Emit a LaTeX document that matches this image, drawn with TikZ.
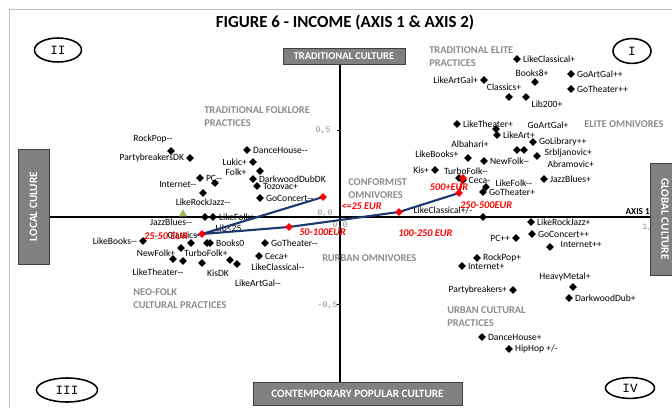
\documentclass[tikz,border=0pt]{standalone}
\usepackage{fontspec}
\setmainfont{Carlito}[Ligatures=TeXOff]
\newfontfamily\monofont{Liberation Mono}
\usetikzlibrary{shapes.geometric}
\definecolor{navy}{RGB}{31,56,112}
\definecolor{olivegreen}{RGB}{155,187,89}
\tikzstyle{dot}=[diamond, fill=black, inner sep=0pt, minimum size=5.8pt, label distance=2.2pt]
\tikzstyle{rdot}=[dot, fill=red]
\tikzstyle{lbl}=[font=\fontsize{6.8}{7}\selectfont, inner sep=1pt]
\tikzstyle{every label}=[lbl]
\tikzstyle{rlbl}=[font=\fontsize{7.3}{8}\selectfont\bfseries\itshape, text=red, inner sep=0pt]
\tikzstyle{cat}=[font=\fontsize{7.4}{9.2}\selectfont\bfseries, text=black!45, align=left, inner sep=0pt]
\tikzstyle{cbox}=[draw=black!75, fill=black!50, text=white, font=\fontsize{7.8}{9}\selectfont\bfseries, line width=.6pt, inner sep=0pt]
\tikzstyle{quad}=[ellipse, draw=black, line width=1.1pt, font=\monofont\fontsize{9}{10}\selectfont, inner sep=0pt]
\tikzstyle{tick}=[font=\monofont\fontsize{6}{7}\selectfont, text=black!45, inner sep=0pt]
\tikzstyle{axis}=[line width=1.4pt]
\tikzstyle{income}=[draw=navy, line width=1.5pt]
\pgfdeclarelayer{bg}
\pgfdeclarelayer{fg}
\pgfsetlayers{bg,main,fg}

\begin{document}
\begin{tikzpicture}[x=0.025cm, y=-0.025cm]
\useasboundingbox (0,0) rectangle (672,408);
\begin{pgfonlayer}{bg}
  \draw[black!25] (9,420) -- (9,9) -- (680,9);
  \draw[axis] (340,64) -- (340,382);
  \draw[axis] (49,217) -- (650,217);
  \foreach \y in {130,304}
    \draw[line width=.6pt] (337,\y) -- (340,\y);
\end{pgfonlayer}

\node[font=\fontsize{12}{14}\selectfont\bfseries] (title) at (345,23) {FIGURE 6 - INCOME (AXIS 1 \& AXIS 2)};

% quadrants
\node[quad, minimum width=1.175cm, minimum height=.6cm] (q2) at (58,50) {II};
\node[quad, minimum width=.95cm, minimum height=.62cm] (q1) at (632,51) {I};
\node[quad, minimum width=1.525cm, minimum height=.6cm] (q3) at (67,390) {III};
\node[quad, minimum width=1.225cm, minimum height=.52cm] (q4) at (630,388) {IV};

% tick labels
\node[tick, anchor=east] (t05) at (331,130) {0,5};
\node[tick, anchor=east] (tm05) at (338,305) {-0,5};
\node[tick] (t00a) at (325,213) {0,0};
\node[tick] (t00b) at (340,225) {0,0};
\node[tick, anchor=west] (t10) at (642,227) {1,0};
\node[font=\fontsize{6.5}{7}\selectfont\bfseries, anchor=south east, inner sep=0pt] (axis1) at (650,215) {AXIS 1};

% poles
\node[cbox, minimum width=3.05cm, minimum height=.4cm, font=\fontsize{7.4}{9}\selectfont\bfseries] (trad) at (344,56) {TRADITIONAL CULTURE};
\node[cbox, minimum width=5.225cm, minimum height=.575cm, font=\fontsize{8}{9}\selectfont\bfseries] (pop) at (357.5,393.5) {CONTEMPORARY POPULAR CULTURE};
\node[cbox, rotate=90, minimum width=2.875cm, minimum height=.775cm, font=\fontsize{8}{9}\selectfont\bfseries] (local) at (33.5,206.5) {LOCAL CULURE};
\node[cbox, rotate=-90, minimum width=2.8cm, minimum height=.75cm, font=\fontsize{8}{9}\selectfont\bfseries] (global) at (665,219) {GLOBAL CULTURE};

% groups of practices
\node[cat, anchor=north west] (elite) at (429,46.6) {TRADITIONAL ELITE\\PRACTICES};
\node[cat, anchor=west] (eliteomni) at (584,124) {ELITE OMNIVORES};
\node[cat, anchor=north west] (folklore) at (204,106.6) {TRADITIONAL FOLKLORE\\PRACTICES};
\node[cat, anchor=north west] (conform) at (348,178.6) {CONFORMIST\\OMNIVORES};
\node[cat, anchor=west] (rurban) at (322,258) {RURBAN OMNIVORES};
\node[cat, anchor=north west] (neofolk) at (133,288.6) {NEO-FOLK\\CULTURAL PRACTICES};
\node[cat, anchor=north west] (urban) at (447,306.6) {URBAN CULTURAL\\PRACTICES};

% quadrant I
\node[dot, label=right:LikeClassical+] (likeclassical-p) at (517,59) {};
\node[dot] (books-p) at (535,82) {};
\node[lbl] at (532,73) {Books8+};
\node[dot, label=right:GoArtGal++] (goartgal-pp) at (571,74) {};
\node[dot, label=right:GoTheater++] (gotheater-pp) at (571,89) {};
\node[dot, label=left:LikeArtGal+] (likeartgal-p) at (484,80) {};
\node[dot] (classics-p) at (509,97) {};
\node[lbl] at (504,87) {Classics+};
\node[dot] (lib-p) at (526,97) {};
\node[lbl] at (547,104) {Lib200+};
\node[dot, label=right:LikeTheater+] (liketheater-p) at (457,124) {};
\node[dot] (goartgal-p) at (496,129) {};
\node[lbl] at (548,125) {GoArtGal+};
\node[dot, label=right:LikeArt+] (likeart-p) at (497,135) {};
\node[dot, label=right:GoLibrary++] (golibrary-pp) at (533,142) {};
\node[dot] (albahari-p) at (517,150) {};
\node[lbl] at (470,144) {Albahari+};
\node[dot] (abramovic-p) at (524,150) {};
\node[lbl, anchor=west] at (546,164) {Abramovic+};
\node[dot] (srbljanovic-p) at (537,156) {};
\node[lbl, anchor=west] at (543,153) {Srbljanovic+};
\node[dot] (likebooks-p) at (468,158) {};
\node[lbl, anchor=east] at (460,154) {LikeBooks+};
\node[dot, label=right:NewFolk--] (newfolk-m) at (484,161) {};
\node[dot, label=left:Kis+] (kis-p) at (435,170) {};
\node[dot] (turbofolk-m) at (459,178) {};
\node[lbl] at (466,171) {TurboFolk--};
\node[dot] (ceca-m) at (463,180) {};
\node[lbl, anchor=west] at (467,180) {Ceca-};
\node[dot] (likefolk-m) at (486,187) {};
\node[lbl, anchor=west] at (494,183) {LikeFolk--};
\node[dot, label=right:GoTheater+] (gotheater-p) at (483,192) {};
\node[dot, label=right:JazzBlues+] (jazzblues-p) at (544,179) {};
\node[dot] (likeclassical-pm) at (483,217) {};
\node[lbl, anchor=east] at (474,210) {LikeClassical+/-};

% quadrant IV
\node[dot, label=right:LikeRockJazz+] (likerockjazz-p) at (531,222) {};
\node[dot, label=right:GoConcert++] (goconcert-pp) at (532,234) {};
\node[dot] (internet-pp) at (550,247) {};
\node[lbl, anchor=west] at (559,244) {Internet++};
\node[dot, label=left:PC++] (pc-pp) at (516,238) {};
\node[dot, label=right:RockPop+] (rockpop-p) at (477,258) {};
\node[dot, label=right:Internet+] (internet-p) at (462,266) {};
\node[dot] (heavymetal-p) at (573,287) {};
\node[lbl] at (565,277) {HeavyMetal+};
\node[dot, label=left:Partybreakers+] (partybreakers-p) at (513,290) {};
\node[dot, label=right:DarkwoodDub+] (darkwooddub-p) at (569,298) {};
\node[dot, label=right:DanceHouse+] (dancehouse-p) at (482,337) {};
\node[dot, label={right:HipHop +/-}] (hiphop-pm) at (509,349) {};

% quadrant II
\node[dot] (rockpop-m) at (171,151) {};
\node[lbl] at (153,139) {RockPop--};
\node[dot, label=left:PartybreakersDK] (partybreakers-dk) at (190,158) {};
\node[dot, label=right:DanceHouse--] (dancehouse-m) at (247,150) {};
\node[dot, label=left:Lukic+] (lukic-p) at (253,162) {};
\node[dot] (folk-p) at (260,171) {};
\node[lbl, anchor=east] at (248,172) {Folk+};
\node[dot, label=right:DarkwoodDubDK] (darkwooddub-dk) at (253,179) {};
\node[dot, label=right:Tozovac+] (tozovac-p) at (257,186) {};
\node[dot, label=right:GoConcert--] (goconcert-m) at (260,198) {};
\node[dot, label=right:PC--] (pc-m) at (200,178) {};
\node[dot] (internet-m) at (215,183) {};
\node[lbl, anchor=east] at (198,184) {Internet--};
\node[dot, label=below:LikeRockJazz--] (likerockjazz-m) at (203,193) {};
\node[dot] (lib-m) at (205,217) {};
\node[lbl, anchor=west] at (214,228) {Lib<25};
\node[dot, label=right:LikeFolk+] (likefolk-p) at (213,217) {};
\node[regular polygon, regular polygon sides=3, fill=olivegreen, inner sep=0pt, minimum size=6.5pt] (jazzblues-m) at (183,214) {};
\node[lbl] at (171,222) {JazzBlues--};

% quadrant III
\node[dot, label=left:LikeBooks--] (likebooks-m) at (143,241) {};
\node[dot] (newfolk-p) at (181,248) {};
\node[lbl] at (156,253) {NewFolk+};
\node[dot] (classics-m) at (191,243) {};
\node[lbl, anchor=west] at (166,235) {Classics--};
\node[dot] (books-x) at (207,243) {};
\node[dot, label=right:Books0] (books-0) at (210,243) {};
\node[dot] (liketheater-m) at (173,259) {};
\node[lbl] at (158,272) {LikeTheater--};
\node[dot] (turbofolk-p) at (183,261) {};
\node[lbl] at (206,253) {TurboFolk+};
\node[dot] (kis-dk) at (202,263) {};
\node[lbl] at (218,273) {KisDK};
\node[dot] (likeartgal-m) at (230,260) {};
\node[lbl] at (258,283) {LikeArtGal--};
\node[dot] (likeclassical-m) at (237,264) {};
\node[lbl] at (278,267) {LikeClassical--};
\node[dot, label=right:Ceca+] (ceca-p) at (259,256) {};
\node[dot, label=right:GoTheater--] (gotheater-m) at (265,243) {};

% income
\begin{pgfonlayer}{fg}
  \node[rdot] (r25) at (323,197) {};
  \node[rdot] (r50) at (202,234) {};
  \node[rdot] (r100) at (289,227) {};
  \node[rdot] (r250) at (399,212) {};
  \node[rdot] (r500) at (459,193) {};
  \node[rdot] (r500p) at (463,178) {};
  \node[rlbl, anchor=west] at (341,206) {<=25 EUR};
  \node[rlbl] at (166,236) {25-50 EUR};
  \node[rlbl, anchor=west] at (299,232) {50-100EUR};
  \node[rlbl, anchor=west] at (398,233) {100-250 EUR};
  \node[rlbl, anchor=west] at (460,205) {250-500EUR};
  \node[rlbl] at (449,187) {500+EUR};
\end{pgfonlayer}
\draw[income] (r25.center) -- (r50.center) -- (r100.center) -- (r250.center) -- (r500.center);
\draw[income, draw=red] (r500.center) -- (r500p.center);
\end{tikzpicture}
\end{document}
